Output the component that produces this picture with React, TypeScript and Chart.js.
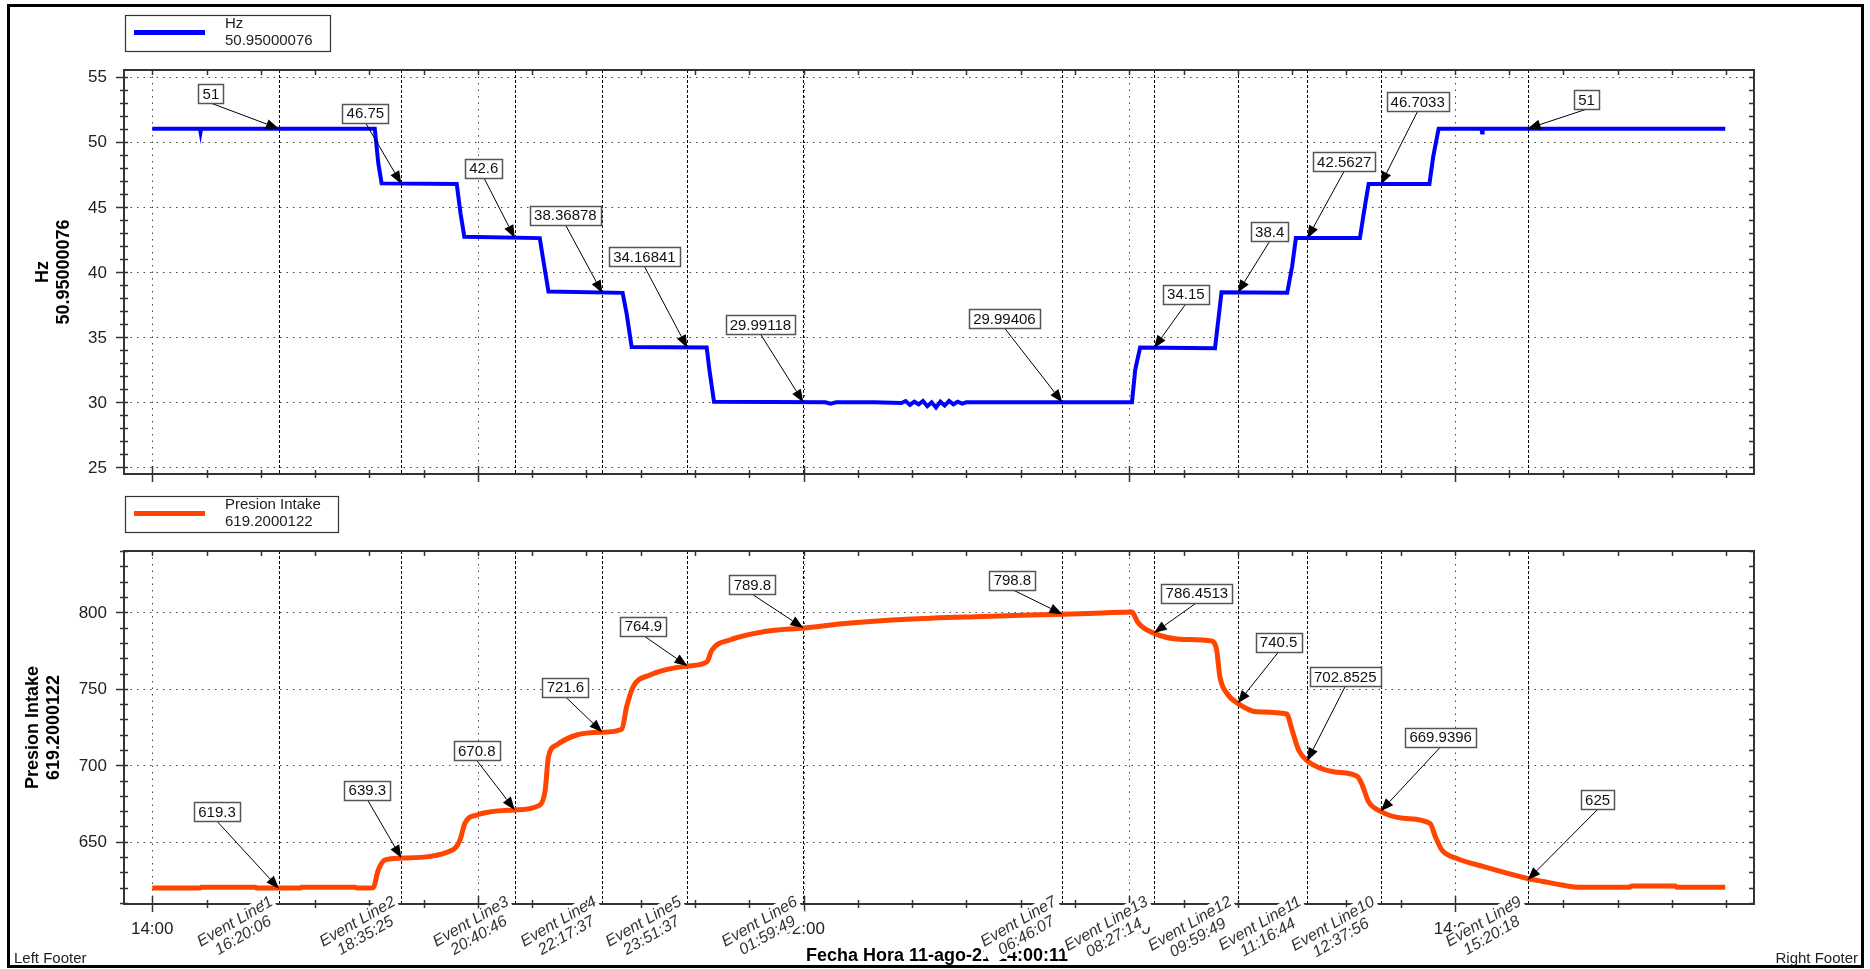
import React, { useEffect, useRef } from "react";
import { Chart, registerables } from "chart.js";

Chart.register(...registerables);

// ---------------- DATA ----------------
// hours elapsed since 14:00 (11-ago)
const HZ_HOURS = [0, 0.88, 0.89, 0.90, 4.10, 4.165, 4.226, 5.61, 5.68, 5.75, 7.14, 7.205, 7.30, 8.667, 8.74, 8.833, 10.215, 10.265, 10.35, 12.4, 12.5, 12.6, 13.3, 13.8, 13.88, 13.96, 14.04, 14.12, 14.2, 14.28, 14.36, 14.44, 14.52, 14.6, 14.68, 14.76, 14.84, 14.92, 15.0, 15.2, 16.0, 18.05, 18.11, 18.20, 19.58, 19.64, 19.70, 20.91, 21.0, 21.07, 22.25, 22.32, 22.41, 23.53, 23.60, 23.70, 24.49, 24.50, 24.51, 28.98];
const HZ_VALUES = [51, 51, 50.75, 51, 51, 48.35, 46.8, 46.75, 44.5, 42.7, 42.6, 40.9, 38.5, 38.4, 36.8, 34.25, 34.2, 32.5, 30.05, 30.0, 29.9, 30.0, 30.0, 29.95, 30.1, 29.8, 30.05, 29.85, 30.1, 29.7, 30.0, 29.6, 30.05, 29.75, 30.1, 29.85, 30.05, 29.9, 30.0, 30.0, 30.0, 30.0, 32.5, 34.2, 34.15, 36.3, 38.45, 38.4, 40.4, 42.6, 42.6, 44.5, 46.75, 46.75, 48.85, 51.0, 51.0, 50.7, 51.0, 51.0];

const PI_HOURS = [0, 0.88, 0.9, 1.9, 1.92, 2.73, 2.75, 3.74, 3.76, 4.07, 4.165, 4.29, 4.58, 5.55, 5.67, 5.76, 5.98, 6.68, 7.14, 7.24, 7.30, 7.45, 7.82, 8.29, 8.65, 8.74, 8.86, 9.17, 9.86, 10.22, 10.31, 10.64, 11.26, 12.0, 12.86, 13.9, 15.3, 16.77, 17.5, 18.05, 18.10, 18.15, 18.45, 19.0, 19.52, 19.61, 19.67, 19.80, 20.0, 20.35, 20.90, 21.0, 21.12, 21.28, 21.76, 22.19, 22.28, 22.41, 22.63, 23.05, 23.54, 23.64, 23.76, 24.04, 24.53, 25.34, 25.63, 25.97, 26.31, 27.2, 27.26, 28.06, 28.09, 28.98];
const PI_VALUES = [619.8, 619.8, 620.2, 620.2, 619.7, 619.7, 620.3, 620.3, 619.8, 620.0, 631.5, 638.1, 639.3, 645.0, 651.1, 662.0, 667.5, 670.8, 674.0, 683.8, 705.6, 713.3, 719.8, 721.6, 723.5, 738.3, 751.3, 759.0, 764.9, 767.7, 775.3, 781.9, 787.3, 789.8, 793.0, 795.5, 797.3, 798.8, 799.6, 800.2, 797.5, 793.9, 786.4, 782.3, 781.2, 775.3, 757.9, 747.0, 740.5, 735.0, 733.5, 723.0, 710.0, 702.9, 695.8, 693.0, 688.2, 676.1, 669.9, 665.3, 662.0, 653.3, 644.6, 639.1, 633.7, 626.0, 624.0, 621.7, 620.2, 620.2, 621.0, 621.0, 620.2, 620.2];

const EVENT_NAMES = ["Event Line1", "Event Line2", "Event Line3", "Event Line4", "Event Line5", "Event Line6", "Event Line7", "Event Line13", "Event Line12", "Event Line11", "Event Line10", "Event Line9"];
const EVENT_TIMES = ["16:20:06", "18:35:25", "20:40:46", "22:17:37", "23:51:37", "01:59:49", "06:46:07", "08:27:14", "09:59:49", "11:16:44", "12:37:56", "15:20:18"];
const EVENT_HOURS = [2.3350, 4.5903, 6.6794, 8.2936, 9.8603, 11.9969, 16.7686, 18.4539, 19.9969, 21.2789, 22.6322, 25.3383];

const HZ_MARKS = ["51", "46.75", "42.6", "38.36878", "34.16841", "29.99118", "29.99406", "34.15", "38.4", "42.5627", "46.7033", "51"];
const PI_MARKS = ["619.3", "639.3", "670.8", "721.6", "764.9", "789.8", "798.8", "786.4513", "740.5", "702.8525", "669.9396", "625"];

const X_TICK_HOURS = [0, 6, 12, 18, 24];
const X_TICK_LABELS = ["14:00", "20:00", "02:00", "08:00", "14:00"];
const HZ_TICKS = [25, 30, 35, 40, 45, 50, 55];
const PI_TICKS = [650, 700, 750, 800];

const HZ_NAME = "Hz";
const HZ_LAST = "50.95000076";
const PI_NAME = "Presion Intake";
const PI_LAST = "619.2000122";
const X_TITLE = "Fecha Hora 11-ago-21 14:00:11";

// ---------------- STYLE / LAYOUT ----------------
const W = 1870;
const H = 969;
const FONT = '"Liberation Sans", Arial, Helvetica, sans-serif';
const X_MIN = -0.52;
const X_MAX = 29.51;
const HZ_OFFSETS = [[-68, -35], [-36, -71], [-31, -70], [-37, -78], [-43, -91], [-43, -78], [-58, -84], [32, -54], [32, -61], [37, -77], [37, -83], [59, -29]];
const PI_OFFSETS = [[-62, -77], [-34, -68], [-38, -59], [-37, -45], [-44, -40], [-51, -43], [-50, -34], [43, -40], [41, -61], [38, -84], [60, -74], [70, -80]];

type PanelOpts = {
  key: string;
  yTicks: number[];
  yMinorStep: number;
  color: string;
  legendY: number;
  legendLines: string[];
  titleLines: string[];
  titleX: number[];
  marks: string[];
  offsets: number[][];
  bottomPanel: boolean;
};

function hline(ctx: CanvasRenderingContext2D, x1: number, x2: number, y: number) {
  ctx.moveTo(x1, y);
  ctx.lineTo(x2, y);
}
function vline(ctx: CanvasRenderingContext2D, x: number, y1: number, y2: number) {
  ctx.moveTo(x, y1);
  ctx.lineTo(x, y2);
}

function drawMark(ctx: CanvasRenderingContext2D, tx: number, ty: number, dx: number, dy: number, text: string) {
  ctx.save();
  ctx.font = `15px ${FONT}`;
  const bw = Math.round(ctx.measureText(text).width + 8);
  const bh = 19;
  const cx = tx + dx;
  const cy = ty + dy;
  const sx = cx;
  const sy = cy + bh / 2;
  const ang = Math.atan2(ty - sy, tx - sx);
  const L = 13;
  const hw = 5;
  const cs = Math.cos(ang);
  const sn = Math.sin(ang);
  ctx.strokeStyle = "#000";
  ctx.fillStyle = "#000";
  ctx.lineWidth = 1;
  ctx.beginPath();
  ctx.moveTo(sx, sy);
  ctx.lineTo(tx - cs * L, ty - sn * L);
  ctx.stroke();
  ctx.beginPath();
  ctx.moveTo(tx, ty);
  ctx.lineTo(tx - cs * L - sn * hw, ty - sn * L + cs * hw);
  ctx.lineTo(tx - cs * L + sn * hw, ty - sn * L - cs * hw);
  ctx.closePath();
  ctx.fill();
  const bx = Math.round(cx - bw / 2) + 0.5;
  const by = Math.round(cy - bh / 2) + 0.5;
  ctx.fillStyle = "#fff";
  ctx.fillRect(bx, by, bw, bh);
  ctx.strokeStyle = "#555";
  ctx.lineWidth = 1.5;
  ctx.strokeRect(bx, by, bw, bh);
  ctx.fillStyle = "#111";
  ctx.textAlign = "center";
  ctx.textBaseline = "middle";
  ctx.fillText(text, cx, cy + 1);
  ctx.restore();
}

function panelPlugin(p: PanelOpts) {
  return {
    id: "panel_" + p.key,
    beforeDatasetsDraw(chart: any) {
      const ctx: CanvasRenderingContext2D = chart.ctx;
      const { left, right, top, bottom } = chart.chartArea;
      const xs = chart.scales.x;
      const ys = chart.scales.y;
      ctx.save();
      ctx.strokeStyle = "#444";
      ctx.lineWidth = 1;
      ctx.setLineDash([1.5, 5]);
      ctx.beginPath();
      p.yTicks.forEach((v) => hline(ctx, left, right, Math.round(ys.getPixelForValue(v)) + 0.5));
      X_TICK_HOURS.forEach((h) => vline(ctx, Math.round(xs.getPixelForValue(h)) + 0.5, top, bottom));
      ctx.stroke();
      ctx.setLineDash([3, 2]);
      ctx.strokeStyle = "#000";
      ctx.beginPath();
      EVENT_HOURS.forEach((h) => vline(ctx, Math.round(xs.getPixelForValue(h)) + 0.5, top, bottom));
      ctx.stroke();
      ctx.restore();
    },
    afterDatasetsDraw(chart: any) {
      const ctx: CanvasRenderingContext2D = chart.ctx;
      const { left, right, top, bottom } = chart.chartArea;
      const xs = chart.scales.x;
      const ys = chart.scales.y;
      ctx.save();
      // axes box
      ctx.strokeStyle = "#333";
      ctx.lineWidth = 2;
      ctx.strokeRect(left, top, right - left, bottom - top);
      // y ticks
      ctx.lineWidth = 1.5;
      ctx.beginPath();
      const ymin = ys.min;
      const ymax = ys.max;
      const s = p.yMinorStep;
      for (let k = Math.ceil(ymin / s); k * s <= ymax + 1e-9; k++) {
        const v = k * s;
        const y = Math.round(ys.getPixelForValue(v)) + 0.5;
        const major = p.yTicks.indexOf(v) >= 0;
        hline(ctx, left - (major ? 8 : 4), left + 4, y);
        hline(ctx, right - 5, right, y);
      }
      // x ticks (hourly)
      for (let hh = Math.ceil(X_MIN); hh <= X_MAX; hh++) {
        const x = Math.round(xs.getPixelForValue(hh)) + 0.5;
        const major = X_TICK_HOURS.indexOf(hh) >= 0;
        vline(ctx, x, bottom - (major ? 8 : 4), bottom + (major ? 8 : 4));
        vline(ctx, x, top, top + 5);
      }
      ctx.stroke();
      // y tick labels
      ctx.fillStyle = "#222";
      ctx.font = `17px ${FONT}`;
      ctx.textAlign = "right";
      ctx.textBaseline = "middle";
      p.yTicks.forEach((v) => ctx.fillText(String(v), left - 17, ys.getPixelForValue(v) + 1));
      // axis title
      ctx.fillStyle = "#000";
      ctx.font = `bold 18px ${FONT}`;
      ctx.textAlign = "center";
      const cyMid = (top + bottom) / 2;
      p.titleLines.forEach((t, i) => {
        ctx.save();
        ctx.translate(p.titleX[i], cyMid);
        ctx.rotate(-Math.PI / 2);
        ctx.fillText(t, 0, 0);
        ctx.restore();
      });
      // legend
      ctx.font = `15px ${FONT}`;
      const tw = Math.max(...p.legendLines.map((t) => ctx.measureText(t).width));
      const lx = 125;
      const ly = p.legendY;
      const lw = Math.round(100 + tw + 17);
      ctx.fillStyle = "#fff";
      ctx.fillRect(lx + 0.5, ly + 0.5, lw, 36);
      ctx.strokeStyle = "#333";
      ctx.lineWidth = 1.2;
      ctx.strokeRect(lx + 0.5, ly + 0.5, lw, 36);
      ctx.strokeStyle = p.color;
      ctx.lineWidth = 5;
      ctx.beginPath();
      hline(ctx, 134, 205, ly + 17.5);
      ctx.stroke();
      ctx.fillStyle = "#222";
      ctx.textAlign = "left";
      ctx.textBaseline = "middle";
      ctx.fillText(p.legendLines[0], 225, ly + 9);
      ctx.fillText(p.legendLines[1], 225, ly + 26);
      // annotations
      EVENT_HOURS.forEach((h, i) => {
        const tx = xs.getPixelForValue(h);
        const ty = ys.getPixelForValue(parseFloat(p.marks[i]));
        drawMark(ctx, tx, ty, p.offsets[i][0], p.offsets[i][1], p.marks[i]);
      });

      if (p.bottomPanel) {
        // x tick labels
        ctx.fillStyle = "#222";
        ctx.font = `17px ${FONT}`;
        ctx.textAlign = "center";
        ctx.textBaseline = "middle";
        X_TICK_HOURS.forEach((h, i) => ctx.fillText(X_TICK_LABELS[i], xs.getPixelForValue(h), bottom + 25));
        // x title
        ctx.fillStyle = "#000";
        ctx.font = `bold 18px ${FONT}`;
        ctx.fillText(X_TITLE, (left + right) / 2 - 2, 956);
        // event labels
        ctx.font = `italic 16px ${FONT}`;
        EVENT_HOURS.forEach((h, i) => {
          const ex = xs.getPixelForValue(h);
          const l1 = EVENT_NAMES[i];
          const l2 = EVENT_TIMES[i];
          const bw = Math.max(ctx.measureText(l1).width, ctx.measureText(l2).width);
          const ox = ex - 10;
          const oy = bottom - 12;
          ctx.save();
          ctx.beginPath();
          ctx.rect(0, bottom - 1, W, H);
          ctx.clip();
          ctx.translate(ox, oy);
          ctx.rotate(-Math.PI / 6);
          ctx.fillStyle = "#fff";
          ctx.fillRect(-bw - 5, 1, bw + 5, 32);
          ctx.restore();
          ctx.save();
          ctx.translate(ox, oy);
          ctx.rotate(-Math.PI / 6);
          ctx.fillStyle = "#333";
          ctx.textAlign = "center";
          ctx.textBaseline = "top";
          ctx.fillText(l1, -bw / 2 - 2, 1);
          ctx.fillText(l2, -bw / 2 - 2, 17);
          ctx.restore();
        });
        // footers
        ctx.fillStyle = "#222";
        ctx.font = `15px ${FONT}`;
        ctx.textBaseline = "middle";
        ctx.textAlign = "left";
        ctx.fillText("Left Footer", 14, 959);
        ctx.textAlign = "right";
        ctx.fillText("Right Footer", 1858, 959);
        // outer frame
        ctx.strokeStyle = "#000";
        ctx.lineWidth = 3;
        ctx.strokeRect(8.5, 5.5, 1854, 961);
      }
      ctx.restore();
    },
  };
}

function makeConfig(hours: number[], values: number[], color: string, width: number, smooth: boolean, pad: any, ymin: number, ymax: number, p: PanelOpts): any {
  return {
    type: "line",
    data: {
      datasets: [
        {
          data: hours.map((h, i) => ({ x: h, y: values[i] })),
          borderColor: color,
          borderWidth: width,
          pointRadius: 0,
          tension: 0,
          cubicInterpolationMode: smooth ? "monotone" : "default",
          fill: false,
        },
      ],
    },
    options: {
      responsive: false,
      animation: false,
      devicePixelRatio: 1,
      events: [],
      layout: { padding: pad },
      scales: {
        x: { type: "linear", min: X_MIN, max: X_MAX, display: false },
        y: { type: "linear", min: ymin, max: ymax, display: false },
      },
      plugins: { legend: { display: false }, tooltip: { enabled: false }, title: { display: false } },
    },
    plugins: [panelPlugin(p)],
  };
}

export default function App() {
  const topRef = useRef<HTMLCanvasElement>(null);
  const botRef = useRef<HTMLCanvasElement>(null);

  useEffect(() => {
    const topChart = new Chart(
      topRef.current as HTMLCanvasElement,
      makeConfig(HZ_HOURS, HZ_VALUES, "#0000ff", 4, false, { left: 124, right: 116, top: 70, bottom: 495 }, 24.5, 55.5, {
        key: "hz",
        yTicks: HZ_TICKS,
        yMinorStep: 1,
        color: "#0000ff",
        legendY: 15,
        legendLines: [HZ_NAME, HZ_LAST],
        titleLines: [HZ_NAME, HZ_LAST],
        titleX: [43, 64],
        marks: HZ_MARKS,
        offsets: HZ_OFFSETS,
        bottomPanel: false,
      })
    );
    const botChart = new Chart(
      botRef.current as HTMLCanvasElement,
      makeConfig(PI_HOURS, PI_VALUES, "#ff4500", 5, true, { left: 124, right: 116, top: 551, bottom: 65 }, 609.3, 840.1, {
        key: "pi",
        yTicks: PI_TICKS,
        yMinorStep: 10,
        color: "#ff4500",
        legendY: 496,
        legendLines: [PI_NAME, PI_LAST],
        titleLines: [PI_NAME, PI_LAST],
        titleX: [33, 54],
        marks: PI_MARKS,
        offsets: PI_OFFSETS,
        bottomPanel: true,
      })
    );
    return () => {
      topChart.destroy();
      botChart.destroy();
    };
  }, []);

  const cs: React.CSSProperties = { position: "absolute", left: 0, top: 0, width: W, height: H };
  return (
    <div style={{ position: "absolute", left: 0, top: 0, width: W, height: H, background: "#fff", overflow: "hidden" }}>
      <canvas ref={topRef} width={W} height={H} style={cs} />
      <canvas ref={botRef} width={W} height={H} style={cs} />
    </div>
  );
}
